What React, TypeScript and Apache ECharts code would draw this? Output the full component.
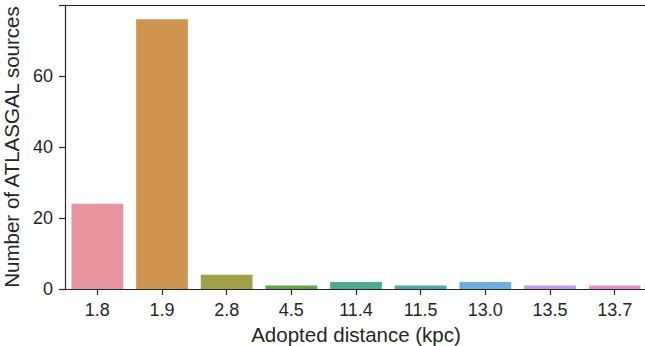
import React, { useEffect, useRef } from "react";
import * as echarts from "echarts";

const categories = ["1.8", "1.9", "2.8", "4.5", "11.4", "11.5", "13.0", "13.5", "13.7"];
const counts = [24, 76, 4, 1, 2, 1, 2, 1, 1];
const barColors = [
  "#e8959f",
  "#cf954e",
  "#a2a046",
  "#5ba843",
  "#4aad90",
  "#4ba7b2",
  "#6aaee3",
  "#bb9cec",
  "#e58dd0",
];
const yTicks = [0, 20, 40, 60];

const FONT = "'Liberation Sans', Arial, sans-serif";
const INK = "#262626";

export default function App() {
  const ref = useRef<HTMLDivElement>(null);

  useEffect(() => {
    if (!ref.current) return;
    const chart = echarts.init(ref.current, undefined, { renderer: "svg" });
    chart.setOption({
      animation: false,
      grid: {
        left: 65,
        right: 3,
        top: 5,
        bottom: 57,
        containLabel: false,
        outerBoundsMode: "none",
      },
      xAxis: [
        {
          type: "category",
          data: categories,
          name: "Adopted distance (kpc)",
          nameLocation: "middle",
          nameGap: 27,
          nameTextStyle: { fontFamily: FONT, fontSize: 20.5, color: INK },
          axisLine: { show: true, lineStyle: { color: INK, width: 1.2 } },
          axisTick: { show: true, alignWithLabel: true, length: 6, lineStyle: { color: INK, width: 1.2 } },
          axisLabel: { fontFamily: FONT, fontSize: 18, color: INK, margin: 12 },
          splitLine: { show: false },
        },
        {
          type: "category",
          data: categories,
          position: "top",
          axisLine: { show: true, lineStyle: { color: INK, width: 1.2 } },
          axisTick: { show: false },
          axisLabel: { show: false },
          splitLine: { show: false },
        },
      ],
      yAxis: {
        type: "value",
        min: 0,
        max: 80,
        interval: 20,
        name: "Number of ATLASGAL sources",
        nameLocation: "middle",
        nameGap: 38,
        nameRotate: 90,
        nameTextStyle: { fontFamily: FONT, fontSize: 20.5, color: INK },
        axisLine: { show: true, lineStyle: { color: INK, width: 1.2 } },
        axisTick: { show: true, length: 6, lineStyle: { color: INK, width: 1.2 } },
        axisLabel: {
          fontFamily: FONT,
          fontSize: 18,
          color: INK,
          margin: 12,
          formatter: (v: number) => (yTicks.includes(v) ? String(v) : ""),
        },
        splitLine: { show: false },
      },
      series: [
        {
          type: "bar",
          xAxisIndex: 0,
          barCategoryGap: "20%",
          data: counts.map((v, i) => ({ value: v, itemStyle: { color: barColors[i] } })),
        },
      ],
    });
    return () => chart.dispose();
  }, []);

  return (
    <div
      style={{
        position: "fixed",
        left: 0,
        top: 0,
        width: 645,
        height: 346,
        overflow: "hidden",
        background: "#fff",
      }}
    >
      <div ref={ref} style={{ width: 650, height: 346 }} />
    </div>
  );
}
